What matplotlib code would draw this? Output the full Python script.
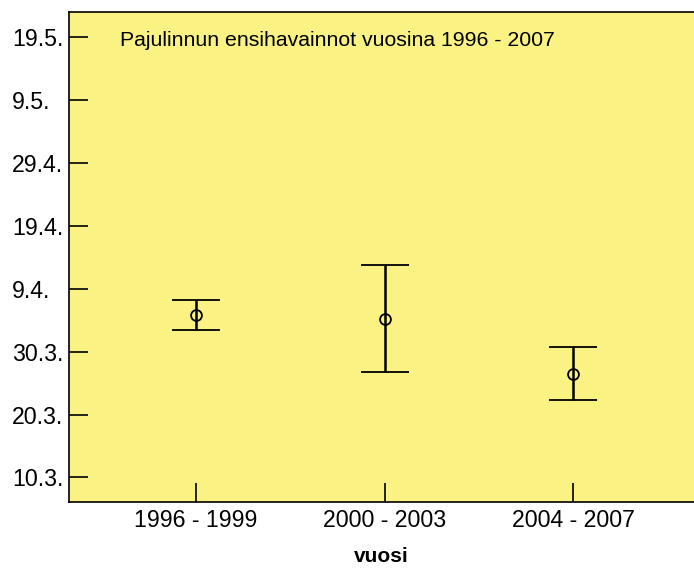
import matplotlib
matplotlib.use("Agg")
import matplotlib.pyplot as plt

# Pajulinnun ensihavainnot, päivät laskettu helmikuun lopusta (1 = 1.3.)
periods = ["1996 - 1999", "2000 - 2003", "2004 - 2007"]
mean_day = [35.8, 35.2, 26.5]
err_day = [2.4, 8.5, 4.2]

tick_days = [10, 20, 30, 40, 50, 60, 70, 80]
tick_labels = ["10.3.", "20.3.", "30.3.", "9.4.", "19.4.", "29.4.", "9.5.", "19.5."]

title = "Pajulinnun ensihavainnot vuosina 1996 - 2007"
BG = "#FAF383"

plt.rcParams["font.family"] = ["Liberation Sans", "DejaVu Sans"]

fig = plt.figure(figsize=(6.94, 5.68), dpi=100)
ax = fig.add_axes([69 / 694, 66 / 568, 625 / 694, 490 / 568])
ax.set_facecolor(BG)

x = list(range(1, len(periods) + 1))
ax.errorbar(x, mean_day, yerr=err_day, fmt="o", color="black",
            ecolor="black", elinewidth=1.8, capsize=17.5, capthick=1.8,
            markersize=7.8, markerfacecolor="none", markeredgewidth=1.3)

ax.set_xlim(0.326, 3.642)
ax.set_ylim(6.1, 84.0)

ax.set_xticks(x)
ax.set_xticklabels(periods, fontsize=16.7)
ax.set_yticks(tick_days)
ax.set_yticklabels(tick_labels, fontsize=16.7)
for lab in ax.get_yticklabels():
    lab.set_horizontalalignment("left")

ax.tick_params(axis="y", direction="in", length=13.7, width=1.2, pad=41)
ax.tick_params(axis="x", direction="in", length=13.5, width=1.2, pad=5)

ax.spines["right"].set_visible(False)
for s in ["left", "bottom", "top"]:
    ax.spines[s].set_linewidth(1.2)

ax.set_xlabel("vuosi", fontsize=15, fontweight="bold", labelpad=11)

ax.text(0.0816, 0.941, title, transform=ax.transAxes, fontsize=15.3,
        ha="left", va="center")

fig.savefig("out.png", dpi=100)
